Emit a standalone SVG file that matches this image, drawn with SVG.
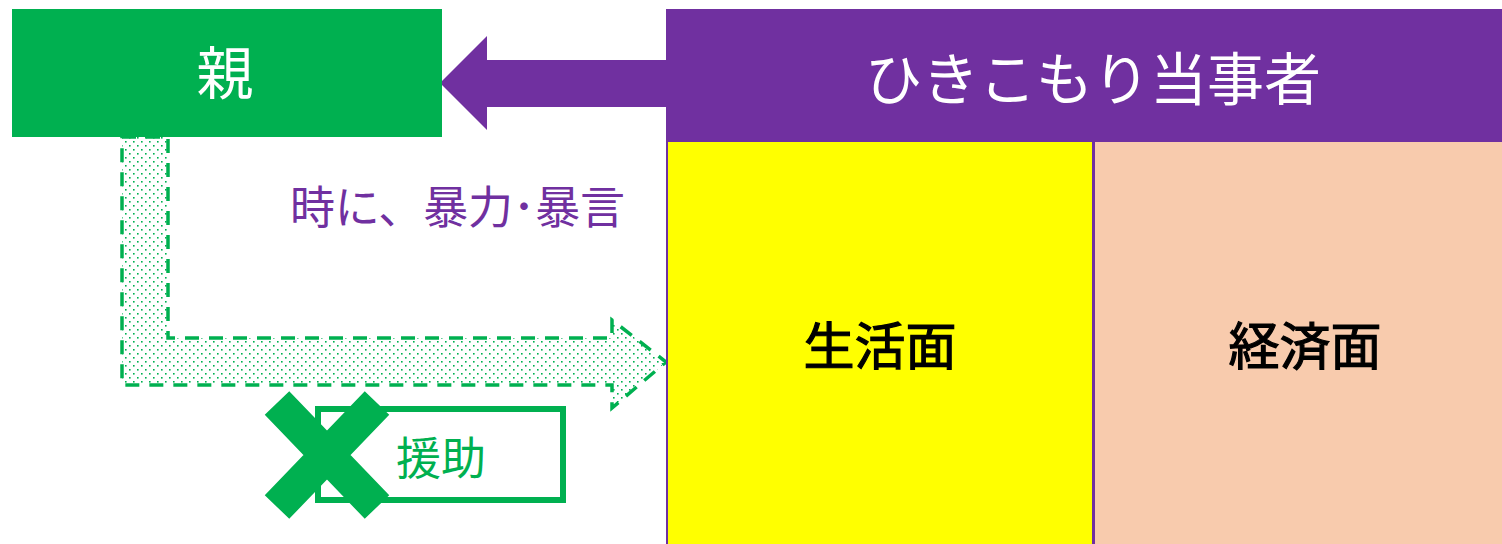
<svg xmlns="http://www.w3.org/2000/svg" width="1502" height="544" viewBox="0 0 1502 544">
<style>
.t{font-family:"Noto Sans CJK JP","Noto Sans",sans-serif;text-anchor:middle;dominant-baseline:central}
.w{fill:#fff;font-size:57px}
.b{fill:#000;font-size:51px;stroke:#000;stroke-width:1.2px}
</style>
<defs>
<pattern id="dots" width="8" height="8" patternUnits="userSpaceOnUse">
<rect x="1" y="1" width="1.6" height="1.6" fill="#00B050"/>
<rect x="5" y="5" width="1.6" height="1.6" fill="#00B050"/>
</pattern>
</defs>
<rect width="1502" height="544" fill="#fff"/>
<g id="connectors">
<path id="purple-arrow" d="M666,60 L487,60 L487,36 L440,83 L487,130 L487,107 L666,107 Z" fill="#7030A0"/>
<path id="support-arrow" d="M122,137 L168,137 L168,338 L612,338 L612,320 L666,362 L612,408 L612,385 L122,385 Z" fill="url(#dots)" stroke="#00B050" stroke-width="3.5" stroke-dasharray="14 10"/>
</g>
<g id="parent">
<rect x="12" y="9" width="430" height="128" fill="#00B050"/>
<text class="t w" x="225" y="69">親</text>
</g>
<g id="hikikomori">
<rect x="666" y="9" width="836" height="132" fill="#7030A0"/>
<text class="t w" x="1093" y="75">ひきこもり当事者</text>
</g>
<g id="seikatsu">
<rect x="667" y="141" width="426" height="404" fill="#FFFF00" stroke="#7030A0" stroke-width="2"/>
<text class="t b" x="880" y="343">生活面</text>
</g>
<g id="keizai">
<rect x="1094" y="141" width="409" height="404" fill="#F8CBAD" stroke="#7030A0" stroke-width="2"/>
<text class="t b" x="1305" y="343">経済面</text>
</g>
<g id="violence">
<text class="t" x="290" y="204" font-size="45" fill="#7030A0" style="text-anchor:start" textLength="335" lengthAdjust="spacing">時に、暴力･暴言</text>
</g>
<g id="support">
<rect x="318" y="409" width="245" height="91" fill="#fff" stroke="#00B050" stroke-width="6"/>
<text class="t" x="441" y="455" font-size="45" fill="#00B050">援助</text>
<path d="M277,403 L377,507 M377,403 L277,507" stroke="#00B050" stroke-width="34" fill="none"/>
</g>
</svg>
